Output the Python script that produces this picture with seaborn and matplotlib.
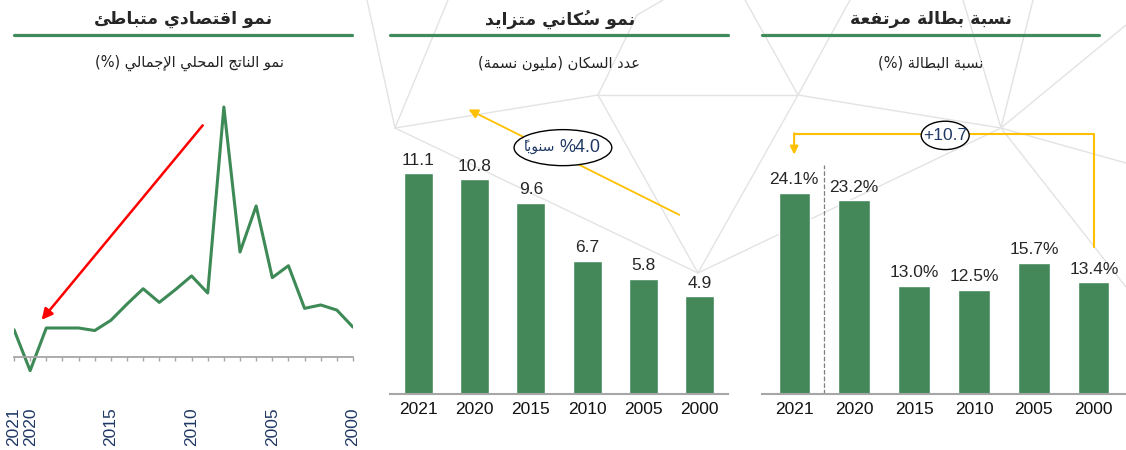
import matplotlib
matplotlib.use('Agg')
import pandas as pd
import matplotlib.pyplot as plt
import seaborn as sns
from matplotlib.lines import Line2D
from matplotlib.patches import Ellipse

# ==========================================
# DATOS
# ==========================================
gdp_years = list(range(2021, 1999, -1))
gdp_growth = [3.2, -1.6, 3.4, 3.4, 3.4, 3.1, 4.3, 6.2, 8.0, 6.4, 7.9,
              9.5, 7.5, 29.3, 12.3, 17.7, 9.3, 10.7, 5.7, 6.1, 5.5, 3.5]
gdp_label_years = [2021, 2020, 2015, 2010, 2005, 2000]

bar_years = ['2021', '2020', '2015', '2010', '2005', '2000']
population = [11.1, 10.8, 9.6, 6.7, 5.8, 4.9]
unemployment = [24.1, 23.2, 13.0, 12.5, 15.7, 13.4]

titles = ['نمو اقتصادي متباطئ', 'نمو سُكاني متزايد', 'نسبة بطالة مرتفعة']
subtitles = ['نمو الناتج المحلي الإجمالي (%)', 'عدد السكان (مليون نسمة)', 'نسبة البطالة (%)']
per_year = 'سنوياً'

GREEN = '#44885A'
LINE_GREEN = '#3E8A57'
TITLE_GREEN = '#3F8C5A'
NAVY = '#1F3864'
YELLOW = '#FFC000'
AXIS_GREY = '#A6A6A6'
BG_GREY = '#E3E3E3'

# decorative background network (pixel coords of the 1126x450 canvas)
bg_segments = [
    ((367, 0), (395, 128)), ((448, 0), (395, 128)), ((395, 128), (598, 95)),
    ((395, 128), (698, 273)), ((598, 95), (637, 15)), ((637, 15), (663, 0)),
    ((598, 95), (798, 95)), ((598, 95), (698, 273)), ((698, 273), (798, 95)),
    ((698, 273), (1001, 128)), ((798, 95), (1001, 128)), ((798, 95), (745, 0)),
    ((798, 95), (850, 0)), ((1001, 128), (963, 0)), ((1001, 128), (1033, 0)),
    ((1001, 128), (1126, 25)), ((1001, 128), (1126, 163)), ((1001, 128), (1126, 287)),
]

# ==========================================
# ARABE: formas de presentación + orden visual
# ==========================================
AR_FORMS = {
    '\u0625': ('\uFE87', '\uFE88', None, None),
    '\u0626': ('\uFE89', '\uFE8A', '\uFE8B', '\uFE8C'),
    '\u0627': ('\uFE8D', '\uFE8E', None, None),
    '\u0628': ('\uFE8F', '\uFE90', '\uFE91', '\uFE92'),
    '\u0629': ('\uFE93', '\uFE94', None, None),
    '\u062A': ('\uFE95', '\uFE96', '\uFE97', '\uFE98'),
    '\u062C': ('\uFE9D', '\uFE9E', '\uFE9F', '\uFEA0'),
    '\u062D': ('\uFEA1', '\uFEA2', '\uFEA3', '\uFEA4'),
    '\u062F': ('\uFEA9', '\uFEAA', None, None),
    '\u0631': ('\uFEAD', '\uFEAE', None, None),
    '\u0632': ('\uFEAF', '\uFEB0', None, None),
    '\u0633': ('\uFEB1', '\uFEB2', '\uFEB3', '\uFEB4'),
    '\u0635': ('\uFEB9', '\uFEBA', '\uFEBB', '\uFEBC'),
    '\u0637': ('\uFEC1', '\uFEC2', '\uFEC3', '\uFEC4'),
    '\u0639': ('\uFEC9', '\uFECA', '\uFECB', '\uFECC'),
    '\u0641': ('\uFED1', '\uFED2', '\uFED3', '\uFED4'),
    '\u0642': ('\uFED5', '\uFED6', '\uFED7', '\uFED8'),
    '\u0643': ('\uFED9', '\uFEDA', '\uFEDB', '\uFEDC'),
    '\u0644': ('\uFEDD', '\uFEDE', '\uFEDF', '\uFEE0'),
    '\u0645': ('\uFEE1', '\uFEE2', '\uFEE3', '\uFEE4'),
    '\u0646': ('\uFEE5', '\uFEE6', '\uFEE7', '\uFEE8'),
    '\u0648': ('\uFEED', '\uFEEE', None, None),
    '\u064A': ('\uFEF1', '\uFEF2', '\uFEF3', '\uFEF4'),
}
LAM_ALEF = {'\u0627': ('\uFEFB', '\uFEFC'), '\u0623': ('\uFEF7', '\uFEF8'),
            '\u0625': ('\uFEF9', '\uFEFA'), '\u0622': ('\uFEF5', '\uFEF6')}
MIRROR = {'(': ')', ')': '('}


def ar(text):
    clusters = []
    for c in text:
        if '\u064B' <= c <= '\u0652' and clusters:
            clusters[-1][1] += c
        else:
            clusters.append([c, ''])
    merged = []
    i = 0
    while i < len(clusters):
        b, m = clusters[i]
        if b == '\u0644' and i + 1 < len(clusters) and clusters[i + 1][0] in LAM_ALEF:
            merged.append(['LA' + clusters[i + 1][0], m + clusters[i + 1][1]])
            i += 2
        else:
            merged.append([b, m])
            i += 1

    def joins_next(b):
        f = AR_FORMS.get(b)
        return f is not None and f[2] is not None

    def is_letter(b):
        return b.startswith('LA') or b in AR_FORMS

    out = []
    for i, (b, m) in enumerate(merged):
        prev_j = i > 0 and joins_next(merged[i - 1][0])
        if b.startswith('LA'):
            g = LAM_ALEF[b[2]][1 if prev_j else 0]
        elif b in AR_FORMS:
            f = AR_FORMS[b]
            next_j = joins_next(b) and i + 1 < len(merged) and is_letter(merged[i + 1][0])
            if prev_j and next_j:
                g = f[3]
            elif prev_j:
                g = f[1]
            elif next_j:
                g = f[2]
            else:
                g = f[0]
        else:
            g = MIRROR.get(b, b)
        # la marca va antes de la base en orden visual (avance cero)
        out.append(m + g)
    return ''.join(reversed(out))


# ==========================================
# FIGURA
# ==========================================
sns.set_style('white')
plt.rcParams['font.family'] = ['Liberation Sans', 'DejaVu Sans']

W, H = 1126, 450
fig = plt.figure(figsize=(W / 100, H / 100), dpi=100)


def px_rect(x0, y0, x1, y1):
    return [x0 / W, 1 - y1 / H, (x1 - x0) / W, (y1 - y0) / H]


for (xa, ya), (xb, yb) in bg_segments:
    fig.add_artist(Line2D([xa / W, xb / W], [1 - ya / H, 1 - yb / H],
                          color=BG_GREY, lw=1, zorder=-5))

# cabeceras
heads = [(14, 352, 183, 190), (390, 728, 560, 559), (762, 1099, 931, 931)]
for (x0, x1, tx, sx), t, s in zip(heads, titles, subtitles):
    fig.text(tx / W, 1 - 19 / H, ar(t), ha='center', va='center', fontsize=12.5,
             fontweight='bold', family=['DejaVu Sans'])
    fig.add_artist(Line2D([x0 / W, x1 / W], [1 - 35 / H] * 2, color=TITLE_GREEN, lw=2.3))
    fig.text(sx / W, 1 - 63 / H, ar(s), ha='center', va='center', fontsize=10.5,
             family=['DejaVu Sans'], color='#222222')

# ---------- Panel 1: PIB ----------
ax1 = fig.add_axes(px_rect(14, 92.5, 353, 395.4))
ax1.patch.set_alpha(0)
sns.lineplot(x=gdp_years, y=gdp_growth, color=LINE_GREEN, lw=2.2, ax=ax1)
ax1.set_xlim(2021, 2000)
ax1.set_ylim(-4.5, 31)
for side in ['left', 'top', 'right']:
    ax1.spines[side].set_visible(False)
ax1.spines['bottom'].set_position(('data', 0))
ax1.spines['bottom'].set_color(AXIS_GREY)
ax1.spines['bottom'].set_linewidth(1.3)
ax1.set_yticks([])
ax1.set_xticks(gdp_years)
ax1.set_xticklabels([str(y) if y in gdp_label_years else '' for y in gdp_years])
ax1.tick_params(axis='x', bottom=True, length=3, width=1, color=AXIS_GREY, direction='out',
                pad=33, labelrotation=90, labelcolor=NAVY, labelsize=12.5)
ax1.annotate('', xy=(2019.4, 4.1), xytext=(2009.2, 27.4),
             arrowprops=dict(arrowstyle='-|>', color='#FF0000', lw=1.8, mutation_scale=16))

# ---------- Panel 2: población ----------
ax2 = fig.add_axes(px_rect(390, 75.6, 728, 394))
ax2.patch.set_alpha(0)
df_pop = pd.DataFrame({'year': bar_years, 'value': population})
sns.barplot(data=df_pop, x='year', y='value', color=GREEN, saturation=1, width=0.51, ax=ax2)
ax2.bar_label(ax2.containers[0], fmt='%.1f', padding=4, fontsize=12.5)
ax2.set_ylim(0, 16)

growth = ((population[0] / population[-1]) ** (1 / 21) - 1) * 100
ax2.annotate('', xy=(0.85, 14.36), xytext=(4.68, 8.94),
             arrowprops=dict(arrowstyle='-|>', color=YELLOW, lw=1.3, mutation_scale=14))
ax2.add_patch(Ellipse((2.57, 12.38), 1.735, 1.81, fc='white', ec='black', lw=1, zorder=4))
ax2.text(2.50, 12.38, f'%{growth:.1f}', ha='left', va='center', fontsize=13, color=NAVY, zorder=5)
ax2.text(2.44, 12.45, ar(per_year), ha='right', va='center', fontsize=10, color=NAVY,
         family=['DejaVu Sans'], zorder=5)

# ---------- Panel 3: desempleo ----------
ax3 = fig.add_axes(px_rect(762, 77, 1126, 394))
ax3.patch.set_alpha(0)
df_un = pd.DataFrame({'year': bar_years, 'value': unemployment})
sns.barplot(data=df_un, x='year', y='value', color=GREEN, saturation=1, width=0.52, ax=ax3)
ax3.bar_label(ax3.containers[0], fmt='%.1f%%', padding=4, fontsize=12.5)
ax3.set_ylim(0, 38)
ax3.vlines(0.5, 0, 27.4, colors='#7F7F7F', linestyles='--', lw=0.9)

top = max(unemployment) + 7.1
ax3.plot([5, 5, 0], [unemployment[-1] + 4.2, top, top], color=YELLOW, lw=1.5)
ax3.annotate('', xy=(0, top - 2.5), xytext=(0, top + 0.05),
             arrowprops=dict(arrowstyle='-|>', color=YELLOW, lw=1.5, mutation_scale=12,
                             shrinkA=0, shrinkB=0))
ax3.add_patch(Ellipse((2.52, top - 0.2), 0.8, 3.4, fc='white', ec='black', lw=1, zorder=4))
ax3.text(2.52, top - 0.2, f'+{unemployment[0] - unemployment[-1]:.1f}', ha='center', va='center',
         fontsize=12.5, color=NAVY, zorder=5)

for ax in (ax2, ax3):
    for side in ['left', 'top', 'right']:
        ax.spines[side].set_visible(False)
    ax.spines['bottom'].set_color(AXIS_GREY)
    ax.spines['bottom'].set_linewidth(1.5)
    ax.set_yticks([])
    ax.set_xlabel('')
    ax.set_ylabel('')
    ax.tick_params(axis='x', length=0, pad=6, labelsize=12.5, labelcolor='#111111')

fig.savefig('out.png', dpi=100)
